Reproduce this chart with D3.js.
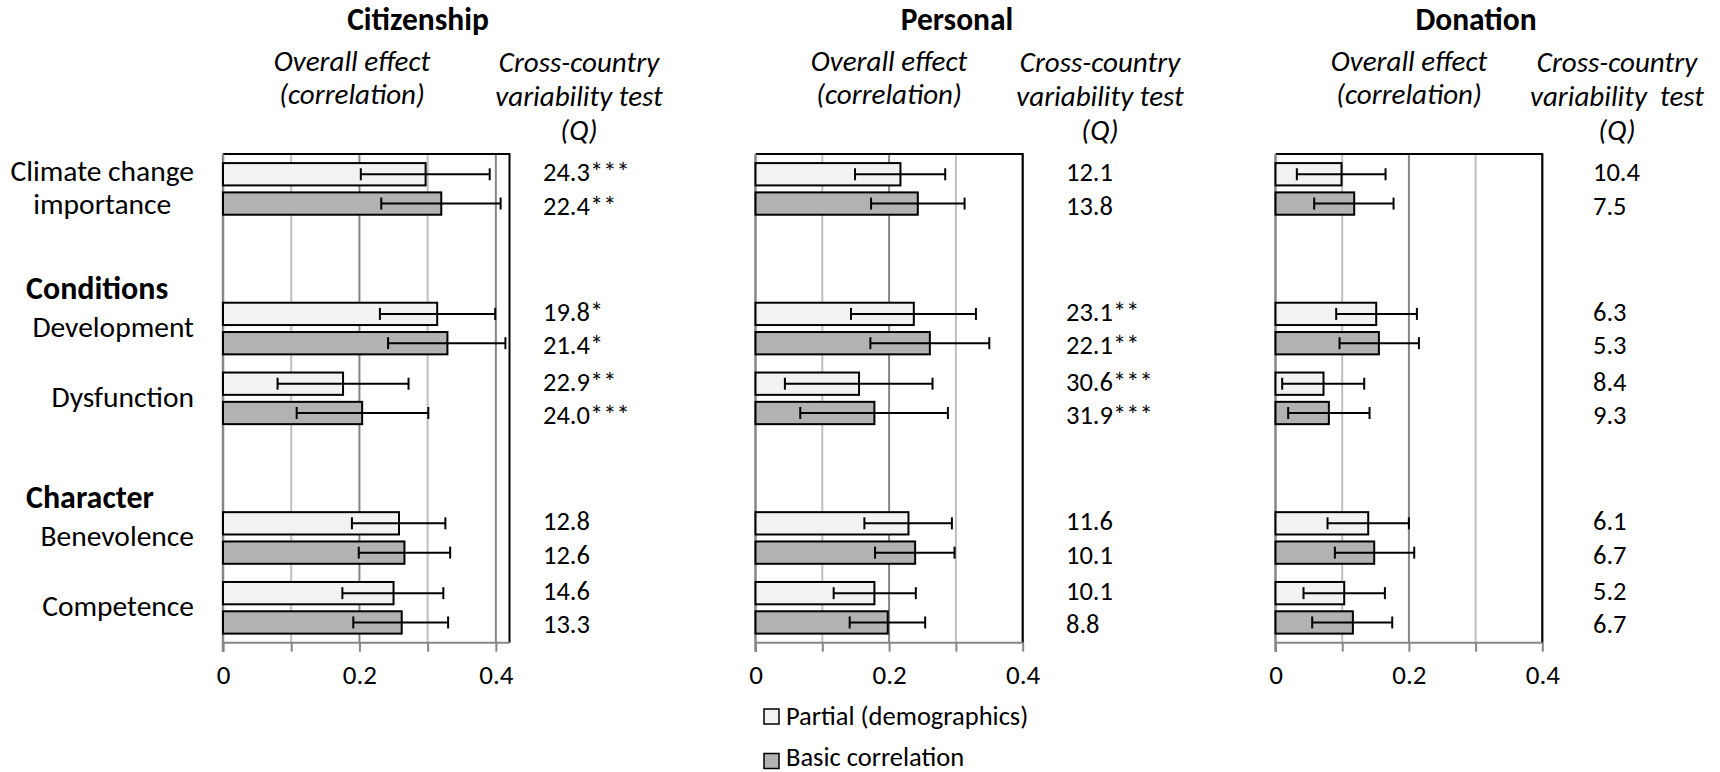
<!DOCTYPE html>
<html>
<head>
<meta charset="utf-8">
<title></title>
<style>
body { margin: 0; background: #fff; }
text { font-family: Carlito, Calibri, Lato, "Open Sans", sans-serif; fill: #000; }
.title { font-size: 31.5px; font-weight: bold; }
.head { font-size: 29px; font-style: italic; }
.cat { font-size: 29.5px; }
.group { font-size: 32px; font-weight: bold; }
.q { font-size: 26.5px; }
.tick text { font-size: 27px; }
.legend text { font-size: 26.5px; }
</style>
</head>
<body>
<script src="https://cdn.jsdelivr.net/npm/d3@7"></script>
<script>

// rows of the chart (blank slots leave room for the group headings)
var slots = ["Climate change importance", "blank1", "Development", "Dysfunction", "blank2", "Benevolence", "Competence"];
var categories = ["Climate change importance", "Development", "Dysfunction", "Benevolence", "Competence"];
var catLines = [["Climate change", "importance"], ["Development"], ["Dysfunction"], ["Benevolence"], ["Competence"]];
var groups = ["Conditions", "Character"];
var groupBefore = ["Development", "Benevolence"];
var series = ["Partial (demographics)", "Basic correlation"];
var tickValues = [0, 0.2, 0.4];

// Citizenship
var citPartial   = [0.297, 0.314, 0.176, 0.258, 0.250];
var citPartialLo = [0.202, 0.230, 0.080, 0.189, 0.175];
var citPartialHi = [0.391, 0.399, 0.272, 0.326, 0.323];
var citBasic     = [0.320, 0.329, 0.204, 0.266, 0.262];
var citBasicLo   = [0.232, 0.242, 0.108, 0.199, 0.191];
var citBasicHi   = [0.407, 0.414, 0.301, 0.333, 0.330];
var citQPartial  = ["24.3***", "19.8*", "22.9**", "12.8", "14.6"];
var citQBasic    = ["22.4**", "21.4*", "24.0***", "12.6", "13.3"];

// Personal
var perPartial   = [0.217, 0.237, 0.155, 0.229, 0.178];
var perPartialLo = [0.149, 0.143, 0.044, 0.163, 0.117];
var perPartialHi = [0.284, 0.330, 0.265, 0.294, 0.240];
var perBasic     = [0.243, 0.261, 0.178, 0.239, 0.198];
var perBasicLo   = [0.173, 0.172, 0.067, 0.179, 0.141];
var perBasicHi   = [0.313, 0.350, 0.288, 0.298, 0.254];
var perQPartial  = ["12.1", "23.1**", "30.6***", "11.6", "10.1"];
var perQBasic    = ["13.8", "22.1**", "31.9***", "10.1", "8.8"];

// Donation
var donPartial   = [0.099, 0.151, 0.072, 0.139, 0.103];
var donPartialLo = [0.032, 0.091, 0.010, 0.078, 0.042];
var donPartialHi = [0.165, 0.212, 0.133, 0.200, 0.164];
var donBasic     = [0.118, 0.155, 0.080, 0.148, 0.116];
var donBasicLo   = [0.058, 0.096, 0.019, 0.089, 0.055];
var donBasicHi   = [0.177, 0.215, 0.141, 0.208, 0.175];
var donQPartial  = ["10.4", "6.3", "8.4", "6.1", "5.2"];
var donQBasic    = ["7.5", "5.3", "9.3", "6.7", "6.7"];

var width = 1720,
    height = 772;

var colors = {"Partial (demographics)": "#f2f2f2", "Basic correlation": "#b2b2b2"};

var panels = [
  {title: "Citizenship", xMax: 0.42, left: 223, right: 509.5, titleX: 418, headX: 352, qHeadX: 579, qX: 543,
   qHead: ["Cross-country", "variability test", "(Q)"],
   vals: [citPartial, citBasic], lo: [citPartialLo, citBasicLo], hi: [citPartialHi, citBasicHi], q: [citQPartial, citQBasic]},
  {title: "Personal", xMax: 0.4, left: 755.5, right: 1022.7, titleX: 957, headX: 889, qHeadX: 1100, qX: 1066,
   qHead: ["Cross-country", "variability test", "(Q)"],
   vals: [perPartial, perBasic], lo: [perPartialLo, perBasicLo], hi: [perPartialHi, perBasicHi], q: [perQPartial, perQBasic]},
  {title: "Donation", xMax: 0.4, left: 1275.5, right: 1542.3, titleX: 1476, headX: 1409, qHeadX: 1617, qX: 1593,
   qHead: ["Cross-country", "variability\u00a0 test", "(Q)"],
   vals: [donPartial, donBasic], lo: [donPartialLo, donBasicLo], hi: [donPartialHi, donBasicHi], q: [donQPartial, donQBasic]}
];

var svg = d3.select("body").append("svg")
    .attr("width", width)
    .attr("height", height);

var y = d3.scaleBand()
    .domain(slots)
    .range([154, 642.7]);

var ySeries = d3.scaleBand()
    .domain(series)
    .range([0, y.bandwidth()])
    .paddingInner(0.17)
    .paddingOuter(0.276);

// category labels, right aligned; multi-line blocks centred on their widest line
var catG = svg.append("g");
categories.forEach(function(c, i) {
  var lines = catLines[i];
  var cy = y(c) + y.bandwidth() / 2;
  var t = catG.append("text").attr("class", "cat").attr("text-anchor", "middle");
  lines.forEach(function(l, j) {
    t.append("tspan")
      .attr("y", cy + 8.5 + (j - (lines.length - 1) / 2) * 33)
      .text(l);
  });
  var maxW = 0;
  t.selectAll("tspan").each(function() { maxW = Math.max(maxW, this.getComputedTextLength()); });
  t.selectAll("tspan").attr("x", 194 - maxW / 2);
});

groups.forEach(function(g, i) {
  catG.append("text")
    .attr("class", "group")
    .attr("x", 26)
    .attr("y", y(groupBefore[i]) + 5)
    .text(g);
});

panels.forEach(function(p) {
  var x = d3.scaleLinear()
      .domain([0, p.xMax])
      .range([p.left, p.right]);
  var top = y.range()[0], bottom = y.range()[1];
  var g = svg.append("g");

  // titles
  g.append("text").attr("class", "title")
    .attr("x", p.titleX).attr("y", 30)
    .attr("text-anchor", "middle")
    .text(p.title);

  g.append("text").attr("class", "head")
    .attr("text-anchor", "middle")
    .selectAll("tspan")
    .data(["Overall effect", "(correlation)"])
    .enter().append("tspan")
    .attr("x", p.headX)
    .attr("y", function(d, i) { return 71 + i * 33; })
    .text(function(d) { return d; });

  g.append("text").attr("class", "head")
    .attr("text-anchor", "middle")
    .selectAll("tspan")
    .data(p.qHead)
    .enter().append("tspan")
    .attr("x", p.qHeadX)
    .attr("y", function(d, i) { return 72 + i * 34; })
    .text(function(d) { return d; });

  // gridlines
  var grid = d3.range(1, 5).map(function(i) { return i / 10; });
  g.selectAll("line.grid")
    .data(grid)
    .enter().append("line")
    .attr("class", "grid")
    .attr("x1", function(d) { return x(d); })
    .attr("x2", function(d) { return x(d); })
    .attr("y1", top)
    .attr("y2", bottom)
    .style("stroke", function(d, i) { return i % 2 == 0 ? "#bfbfbf" : "#868686"; })
    .style("stroke-width", 2);

  // plot border (top and right)
  g.append("path")
    .attr("d", "M" + x(0) + "," + top + "H" + x(p.xMax) + "V" + bottom)
    .style("fill", "none")
    .style("stroke", "#000")
    .style("stroke-width", 2);

  // x axis
  var axis = g.append("g")
      .attr("class", "tick")
      .attr("transform", "translate(0," + bottom + ")")
      .call(d3.axisBottom(x).tickValues(d3.range(0, 5).map(function(i) { return i / 10; }))
        .tickSize(9).tickPadding(13)
        .tickFormat(function(d) { return tickValues.indexOf(Math.round(d * 10) / 10) >= 0 ? d3.format("")(Math.round(d * 10) / 10) : ""; }));
  axis.select(".domain").attr("d", "M" + x(0) + ",0H" + x(p.xMax)).style("stroke", "#868686").style("stroke-width", 2);
  axis.selectAll(".tick line").style("stroke", "#868686").style("stroke-width", 2);
  axis.selectAll(".tick text").style("fill", "#000").attr("dy", "0.71em");
  axis.attr("font-family", null).attr("font-size", null);

  // left axis line
  g.append("line")
    .attr("x1", x(0)).attr("x2", x(0))
    .attr("y1", top).attr("y2", bottom + 9)
    .style("stroke", "#868686")
    .style("stroke-width", 2.5);

  series.forEach(function(s, si) {
    var rows = categories.map(function(c, i) {
      return {cat: c, v: p.vals[si][i], lo: p.lo[si][i], hi: p.hi[si][i], q: p.q[si][i]};
    });

    g.selectAll("rect.s" + si)
      .data(rows)
      .enter().append("rect")
      .attr("class", "s" + si)
      .attr("x", x(0))
      .attr("y", function(d) { return y(d.cat) + ySeries(s) + 1; })
      .attr("width", function(d) { return x(d.v) - x(0); })
      .attr("height", ySeries.bandwidth() - 2)
      .style("fill", colors[s])
      .style("stroke", "#000")
      .style("stroke-width", 2);

    var eb = g.selectAll("g.eb" + si)
      .data(rows)
      .enter().append("g")
      .attr("class", "eb" + si)
      .attr("transform", function(d) { return "translate(0," + (y(d.cat) + ySeries(s) + ySeries.bandwidth() / 2) + ")"; })
      .style("stroke", "#000")
      .style("stroke-width", 2);
    eb.append("line").attr("x1", function(d) { return x(d.lo); }).attr("x2", function(d) { return x(d.hi); });
    eb.append("line").attr("x1", function(d) { return x(d.lo); }).attr("x2", function(d) { return x(d.lo); }).attr("y1", -6).attr("y2", 6);
    eb.append("line").attr("x1", function(d) { return x(d.hi); }).attr("x2", function(d) { return x(d.hi); }).attr("y1", -6).attr("y2", 6);

    // Q statistic column
    g.selectAll("text.q" + si)
      .data(rows)
      .enter().append("text")
      .attr("class", "q q" + si)
      .attr("x", p.qX)
      .attr("y", function(d) { return y(d.cat) + y.bandwidth() / 2 + 9 + (si == 0 ? -16.7 : 16.7); })
      .text(function(d) { return d.q; });
  });
});

// legend
var legend = svg.append("g").attr("class", "legend");
series.forEach(function(s, i) {
  legend.append("rect")
    .attr("x", 764).attr("y", 709 + i * 44.5)
    .attr("width", 15).attr("height", 15)
    .style("fill", colors[s])
    .style("stroke", "#000")
    .style("stroke-width", 1.5);
  legend.append("text")
    .attr("x", 786).attr("y", 725 + i * 41)
    .text(s);
});

</script>
</body>
</html>
